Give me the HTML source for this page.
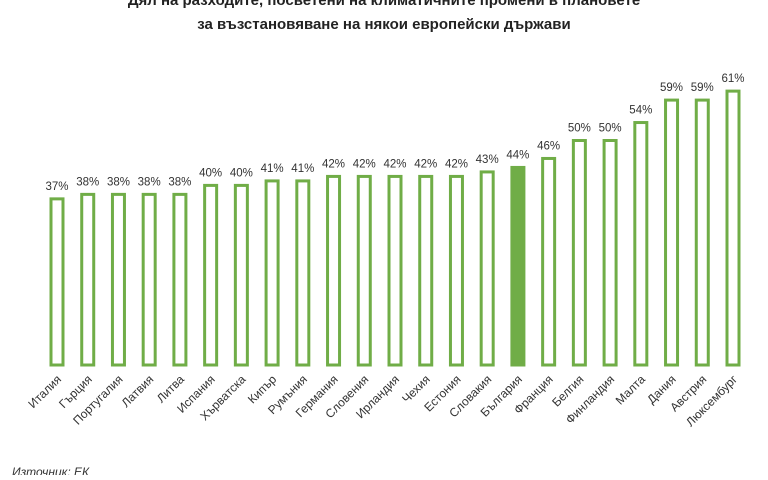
<!DOCTYPE html>
<html><head><meta charset="utf-8"><style>
body{margin:0;background:#fff;width:768px;height:475px;overflow:hidden;font-family:"Liberation Sans","DejaVu Sans",sans-serif}
</style></head><body>
<svg width="768" height="475">
<text x="384" y="5" text-anchor="middle" font-size="15" font-weight="bold" fill="#222">Дял на разходите, посветени на климатичните промени в плановете</text>
<text x="384" y="29" text-anchor="middle" font-size="15" font-weight="bold" fill="#222">за възстановяване на някои европейски държави</text>
<g id="bars"></g>
<text x="12" y="476" font-size="12" font-style="italic" fill="#333">Източник: ЕК</text>
</svg>
<script>
const categories=["Италия","Гърция","Португалия","Латвия","Литва","Испания","Хърватска","Кипър","Румъния","Германия","Словения","Ирландия","Чехия","Естония","Словакия","България","Франция","Белгия","Финландия","Малта","Дания","Австрия","Люксембург"];
const values=[37,38,38,38,38,40,40,41,41,42,42,42,42,42,43,44,46,50,50,54,59,59,61];
const highlight="България";
const NS="http://www.w3.org/2000/svg";
const g=document.getElementById('bars');
const x0=57,x1=733,base=365,scale=4.49,bw=12;
const step=(x1-x0)/(categories.length-1);
const xs=i=>x0+i*step, ys=v=>base-v*scale;
categories.forEach((c,i)=>{
  const cx=xs(i),top=ys(values[i]);
  const r=document.createElementNS(NS,'rect');
  r.setAttribute('x',cx-bw/2);r.setAttribute('y',top);r.setAttribute('width',bw);r.setAttribute('height',base-top);
  r.setAttribute('fill',c===highlight?'#70ad47':'#fff');r.setAttribute('stroke','#70ad47');r.setAttribute('stroke-width','3');
  
  
  g.appendChild(r);
  const t=document.createElementNS(NS,'text');
  t.setAttribute('x',cx);t.setAttribute('y',top-9);t.setAttribute('text-anchor','middle');t.setAttribute('font-size','11.5');t.setAttribute('fill','#333');
  t.textContent=values[i]+'%';
  
  
  g.appendChild(t);
  const l=document.createElementNS(NS,'text');
  l.setAttribute('transform','translate('+(cx+5)+','+(base+15)+') rotate(-45)');
  l.setAttribute('text-anchor','end');l.setAttribute('font-size','12');l.setAttribute('fill','#333');
  l.textContent=c;
  
  
  g.appendChild(l);
});
</script>
</body></html>
